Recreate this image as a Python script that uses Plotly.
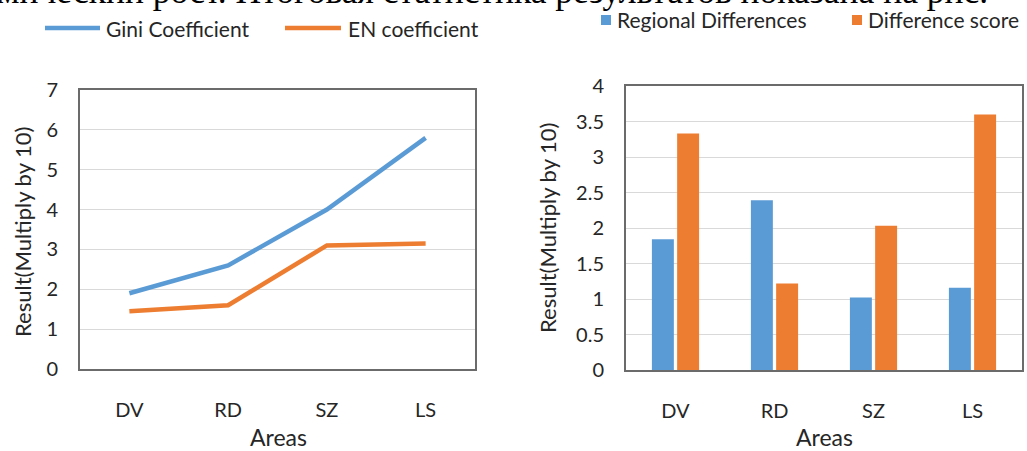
import plotly.graph_objects as go

W, H = 1027, 451

# Data
areas = ["DV", "RD", "SZ", "LS"]
gini = [1.9, 2.6, 4.0, 5.8]
en_coef = [1.45, 1.6, 3.1, 3.15]
regional_diff = [1.84, 2.39, 1.02, 1.16]
diff_score = [3.33, 1.22, 2.03, 3.6]
left_ticks = [0, 1, 2, 3, 4, 5, 6, 7]
right_ticks = [0, 0.5, 1, 1.5, 2, 2.5, 3, 3.5, 4]

BLUE = "#5B9BD5"
ORANGE = "#ED7D31"
TXT = "#262626"
FONT = "Lato"


def px_x(p):
    return p / W


def px_y(p):
    return 1 - p / H


fig = go.Figure()

fig.add_trace(go.Scatter(x=areas, y=gini, mode="lines", name="Gini Coefficient",
                         line=dict(color=BLUE, width=4.5), xaxis="x", yaxis="y"))
fig.add_trace(go.Scatter(x=areas, y=en_coef, mode="lines", name="EN coefficient",
                         line=dict(color=ORANGE, width=4.5), xaxis="x", yaxis="y"))

fig.add_trace(go.Bar(x=areas, y=regional_diff, name="Regional Differences",
                     marker=dict(color=BLUE, line=dict(width=0)), xaxis="x2", yaxis="y2"))
fig.add_trace(go.Bar(x=areas, y=diff_score, name="Difference score",
                     marker=dict(color=ORANGE, line=dict(width=0)), xaxis="x2", yaxis="y2"))

axis_common = dict(showline=True, linecolor="#6b6b6b", linewidth=2, mirror=True,
                   tickfont=dict(family=FONT, size=20, color=TXT), zeroline=False,
                   automargin=False)

fig.update_layout(
    width=W, height=H,
    margin=dict(l=0, r=0, t=0, b=0, pad=0),
    paper_bgcolor="white", plot_bgcolor="white",
    font=dict(family=FONT, size=20, color=TXT),
    bargap=0.49, bargroupgap=0.13,
    showlegend=False,
    xaxis=dict(domain=[px_x(80), px_x(475)], anchor="y", type="category",
               range=[-0.5, 3.5], showgrid=False, ticks="",
               ticklabelstandoff=22, **axis_common),
    yaxis=dict(domain=[px_y(369), px_y(90)], anchor="x", range=[0, 7],
               tickvals=left_ticks, showgrid=True, gridcolor="#d9d9d9",
               gridwidth=1, ticklabelstandoff=16, **axis_common),
    xaxis2=dict(domain=[px_x(626), px_x(1022)], anchor="y2", type="category",
                range=[-0.5, 3.5], showgrid=False, ticks="",
                ticklabelstandoff=22, **axis_common),
    yaxis2=dict(domain=[px_y(370), px_y(86)], anchor="x2", range=[0, 4],
                tickvals=right_ticks, showgrid=True, gridcolor="#d9d9d9",
                gridwidth=1, ticklabelstandoff=16, **axis_common),
)

# Legend keys, drawn in the page's pixel frame
legend_font = dict(family=FONT, size=21, color=TXT)
line_keys = [(45, 100, BLUE, "Gini Coefficient", 104),
             (285, 341, ORANGE, "EN coefficient", 346)]
for x0, x1, col, label, tx in line_keys:
    fig.add_shape(type="line", xref="paper", yref="paper",
                  x0=px_x(x0), x1=px_x(x1), y0=px_y(28), y1=px_y(28),
                  line=dict(color=col, width=4.5))
    fig.add_annotation(x=px_x(tx), y=px_y(28), xref="paper", yref="paper",
                       xanchor="left", yanchor="middle", text=label,
                       showarrow=False, font=legend_font)

square_keys = [(606, BLUE, "Regional Differences", 615),
               (857, ORANGE, "Difference score", 866)]
for cx, col, label, tx in square_keys:
    fig.add_shape(type="rect", xref="paper", yref="paper",
                  x0=px_x(cx - 5), x1=px_x(cx + 5), y0=px_y(25), y1=px_y(15),
                  fillcolor=col, line=dict(width=0))
    fig.add_annotation(x=px_x(tx), y=px_y(20), xref="paper", yref="paper",
                       xanchor="left", yanchor="middle", text=label,
                       showarrow=False, font=legend_font)

# Axis titles
for xc, yc in [(22, 232), (548, 228)]:
    fig.add_annotation(x=px_x(xc), y=px_y(yc), xref="paper", yref="paper",
                       xanchor="center", yanchor="middle",
                       text="Result(Multiply by 10)", textangle=-90, showarrow=False,
                       font=dict(family=FONT, size=22, color=TXT))
for xc in [278, 824]:
    fig.add_annotation(x=px_x(xc), y=px_y(437), xref="paper", yref="paper",
                       xanchor="center", yanchor="middle",
                       text="Areas", showarrow=False,
                       font=dict(family=FONT, size=23, color=TXT))

# Running text of the page above the figure, clipped at the top edge
fig.add_annotation(x=px_x(-5), y=px_y(13), xref="paper", yref="paper",
                   xanchor="left", yanchor="bottom",
                   text="мический рост. Итоговая статистика результатов показана на рис.",
                   showarrow=False,
                   font=dict(family="Liberation Serif", size=35.5, color="#000000"))

fig.write_html("out.html")
